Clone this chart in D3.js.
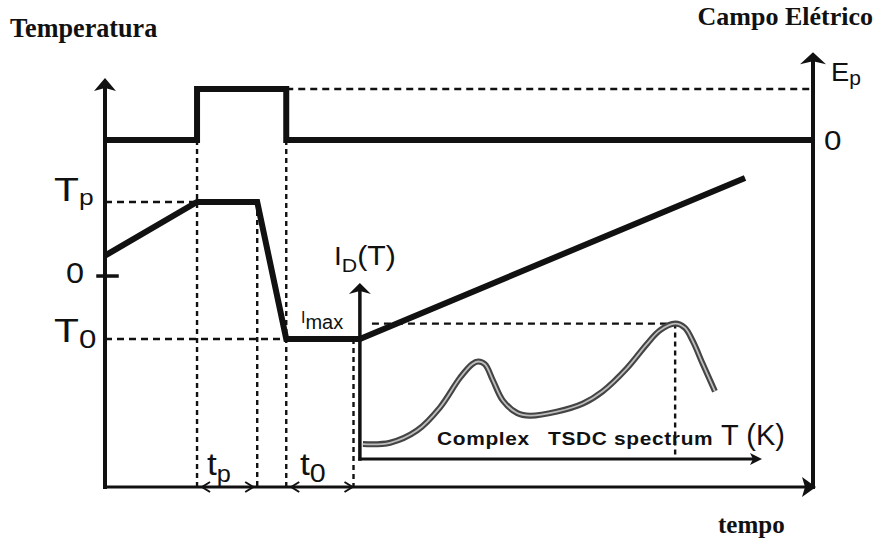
<!DOCTYPE html>
<html>
<head>
<meta charset="utf-8">
<script src="https://cdn.jsdelivr.net/npm/d3@7"></script>
<style>
  body { margin: 0; background: #fff; }
  svg { display: block; }
</style>
</head>
<body>
<script>
// ---- Protocol instants (arbitrary time units, axis spans 0..100) ----
const markNames  = ["fieldOn", "coolStart", "fieldOff", "measure"];
const markTimes  = [13, 21.5, 25.6, 35.1];
const rampStart  = 36;          // inset origin / start of the linear heating ramp

// ---- Temperature profile (time, temperature in arbitrary units; 0 is the tick "0") ----
const tempTimes  = [0, 13, 21.5, 25.6, 36, 90.4];
const tempValues = [11, 40, 40, -34, -34, 53];
const tempTickLabels = ["p", "0", "0"];      // Tp, 0, T0
const tempTickValues = [40, 0, -34];

// ---- Electric field profile (0 .. Ep = 1) ----
const fieldTimes  = [0, 13, 13, 25.6, 25.6, 100];
const fieldValues = [0, 0, 1, 1, 0, 0];

// ---- Depolarisation current spectrum I_D(T) (T in arbitrary units, I / Imax) ----
const spectrumT = [0.75, 7.5, 14.2, 19.9, 24.9, 27.9, 29.4, 31.1, 33.1, 35.6, 39.1, 42.3,
                   49.0, 55.5, 60.4, 66.4, 71.4, 74.6, 78.4, 80.8, 82.8, 85.3, 88.3];
const spectrumI = [0.11, 0.12, 0.21, 0.38, 0.60, 0.70, 0.72, 0.70, 0.58, 0.43, 0.34, 0.32,
                   0.35, 0.41, 0.50, 0.67, 0.85, 0.95, 1.00, 0.97, 0.87, 0.70, 0.50];
const iMax = 1;

const W = 877, H = 545;
const svg = d3.select("body").append("svg").attr("width", W).attr("height", H);

// main scales
const x  = d3.scaleLinear().domain([0, 100]).range([105, 813]);
const yT = d3.scaleLinear().domain([-114, 107]).range([487, 78]);
const yE = d3.scaleLinear().domain([0, 1]).range([140, 89]);

// inset scales
const xi = d3.scaleLinear().domain([0, 100]).range([x(rampStart), 762]);
const yi = d3.scaleLinear().domain([0, 1.3]).range([459, 283]);

const SANS = "'Liberation Sans', Arial, sans-serif";
const SERIF = "'Liberation Serif', 'Times New Roman', serif";
const INK = "#111";

const g = svg.append("g");
const bottom = yT.range()[0];

// ---------- guide lines ----------
const dashH = "7,5", dotV = "5,4";
function guide(x1, y1, x2, y2, dash) {
  g.append("line").attr("x1", x1).attr("y1", y1).attr("x2", x2).attr("y2", y2)
    .attr("stroke", INK).attr("stroke-width", 2.4).attr("stroke-dasharray", dash);
}
// horizontal level guides
guide(x(0), yT(tempTickValues[0]), x(markTimes[0]), yT(tempTickValues[0]), dashH);
guide(x(0), yT(tempTickValues[2]), x(markTimes[2]), yT(tempTickValues[2]), dashH);
guide(x(markTimes[2]), yE(1), x(100), yE(1), dashH);
// vertical time guides
guide(x(markTimes[0]), yE(0), x(markTimes[0]), bottom, dotV);
guide(x(markTimes[1]), yT(40), x(markTimes[1]), bottom, dotV);
guide(x(markTimes[2]), yE(0), x(markTimes[2]), bottom, dotV);
guide(x(markTimes[3]), yT(-34), x(markTimes[3]), bottom, dotV);
// Imax guides in the inset
const peakIdx = spectrumI.indexOf(d3.max(spectrumI));
guide(xi(3), yi(iMax), xi(spectrumT[peakIdx]), yi(iMax), dashH);
guide(xi(spectrumT[peakIdx]), yi(iMax), xi(spectrumT[peakIdx]), yi(0), dotV);

// ---------- axes ----------
function axisLine(x1, y1, x2, y2, w) {
  g.append("line").attr("x1", x1).attr("y1", y1).attr("x2", x2).attr("y2", y2)
    .attr("stroke", INK).attr("stroke-width", w).attr("stroke-linecap", "square");
}
function arrowHead(tx, ty, dir, len, half) {
  // dir: "up" or "right"
  let pts;
  if (dir === "up") pts = [[tx, ty], [tx - half, ty + len], [tx, ty + len - 3], [tx + half, ty + len]];
  else pts = [[tx, ty], [tx - len, ty - half], [tx - len + 3, ty], [tx - len, ty + half]];
  g.append("path").attr("d", d3.line()(pts) + "Z").attr("fill", INK);
}
// left temperature axis
axisLine(x(0), bottom, x(0), yT.range()[1] + 8, 4);
arrowHead(x(0), yT.range()[1], "up", 13, 11);
// zero tick
axisLine(x(0) - 7, yT(0), x(0) + 12, yT(0), 3.5);
// bottom time axis
axisLine(x(0), bottom, x(100), bottom, 3.2);
arrowHead(x(100) + 3, bottom, "right", 14, 10);
// right field axis
axisLine(x(100), bottom, x(100), yE(1.72) + 8, 4);
arrowHead(x(100), yE(1.72), "up", 12, 13);

// inset axes
axisLine(xi(0), yi(0), xi(0), yi(1.3) + 8, 3.5);
arrowHead(xi(0), yi(1.3), "up", 11, 11);
axisLine(xi(0), yi(0), xi(100) - 8, yi(0), 3);
arrowHead(xi(100), yi(0), "right", 12, 6);

// ---------- profiles ----------
const fieldLine = d3.line().x((d, i) => x(fieldTimes[i])).y(d => yE(d));
g.append("path").attr("d", fieldLine(fieldValues))
  .attr("fill", "none").attr("stroke", INK).attr("stroke-width", 6)
  .attr("stroke-linejoin", "miter");

const tempLine = d3.line().x((d, i) => x(tempTimes[i])).y(d => yT(d));
g.append("path").attr("d", tempLine(tempValues))
  .attr("fill", "none").attr("stroke", INK).attr("stroke-width", 6)
  .attr("stroke-linejoin", "miter");

// ---------- spectrum (double-line grey stroke) ----------
const specLine = d3.line().curve(d3.curveCatmullRom.alpha(0.5))
  .x((d, i) => xi(spectrumT[i])).y(d => yi(d));
g.append("path").attr("d", specLine(spectrumI))
  .attr("fill", "none").attr("stroke", "#444").attr("stroke-width", 6)
  .attr("stroke-linecap", "butt");
g.append("path").attr("d", specLine(spectrumI))
  .attr("fill", "none").attr("stroke", "#bdbdbd").attr("stroke-width", 1.8);

// ---------- time interval double arrows ----------
function interval(xa, xb) {
  const y = bottom;
  g.append("line").attr("x1", xa).attr("y1", y).attr("x2", xb).attr("y2", y)
    .attr("stroke", INK).attr("stroke-width", 2);
  g.append("path").attr("d", `M${xa + 8},${y - 5}L${xa},${y}L${xa + 8},${y + 5}`)
    .attr("fill", "none").attr("stroke", INK).attr("stroke-width", 2);
  g.append("path").attr("d", `M${xb - 8},${y - 5}L${xb},${y}L${xb - 8},${y + 5}`)
    .attr("fill", "none").attr("stroke", INK).attr("stroke-width", 2);
}
interval(x(markTimes[0]) + 5, x(markTimes[1]) - 4);
interval(x(markTimes[2]) + 5, x(markTimes[3]) - 1);

// ---------- labels ----------
// parts: [text, fontSize, baselineOffset]
function label(px, py, parts, opt = {}) {
  const sx = opt.sx || 1;
  const t = svg.append("text")
    .attr("transform", `translate(${px},${py}) scale(${sx},1)`)
    .attr("font-family", opt.family || SANS)
    .attr("font-weight", opt.weight || "normal")
    .attr("text-anchor", opt.anchor || "start")
    .attr("fill", INK);
  if (opt.spacing) t.attr("letter-spacing", opt.spacing);
  let prev = 0;
  parts.forEach(([txt, size, off]) => {
    t.append("tspan").attr("font-size", size).attr("dy", off - prev).text(txt);
    prev = off;
  });
  return t;
}

// titles
label(10, 37, [["Temperatura", 27, 0]], { family: SERIF, weight: "bold", sx: 0.97 });
label(873, 25, [["Campo Elétrico", 26, 0]], { family: SERIF, weight: "bold", anchor: "end" });
label(718, 533, [["tempo", 25, 0]], { family: SERIF, weight: "bold" });

// temperature levels
label(54, yT(tempTickValues[0]) - 1, [["T", 34, 0], [tempTickLabels[0], 22, 4]], { sx: 1.2 });
label(84, yT(tempTickValues[1]) + 7, [[tempTickLabels[1], 30, 0]], { sx: 1.08, anchor: "end" });
label(54, yT(tempTickValues[2]) + 3, [["T", 34, 0], [tempTickLabels[2], 26, 6]], { sx: 1.2 });

// field levels
label(831, yE(1) - 8, [["E", 26, 0], ["p", 20, 4]], { sx: 1.05 });
label(824, yE(0) + 10, [["0", 28, 0]], { sx: 1.12 });

// inset labels
label(334, 265, [["I", 25, 0], ["D", 19, 7], ["(T)", 27, 0]], { sx: 1.12 });
label(301, yi(iMax) - 1, [["I", 16, 0], ["max", 20, 6]], { sx: 1.0 });
label(437, 445, [["Complex", 19, 0]], { weight: "bold", sx: 1.1, spacing: 0.6 });
label(548, 445, [["TSDC spectrum", 19, 0]], { weight: "bold", sx: 1.1, spacing: 0.6 });
label(721, 445, [["T (K)", 29, 0]], { sx: 1.0 });

// interval labels
label(207, 475, [["t", 32, 0], ["p", 23, 7]], { sx: 1.1 });
label(300, 475, [["t", 32, 0], ["0", 26, 7]], { sx: 1.1 });
</script>
</body>
</html>
